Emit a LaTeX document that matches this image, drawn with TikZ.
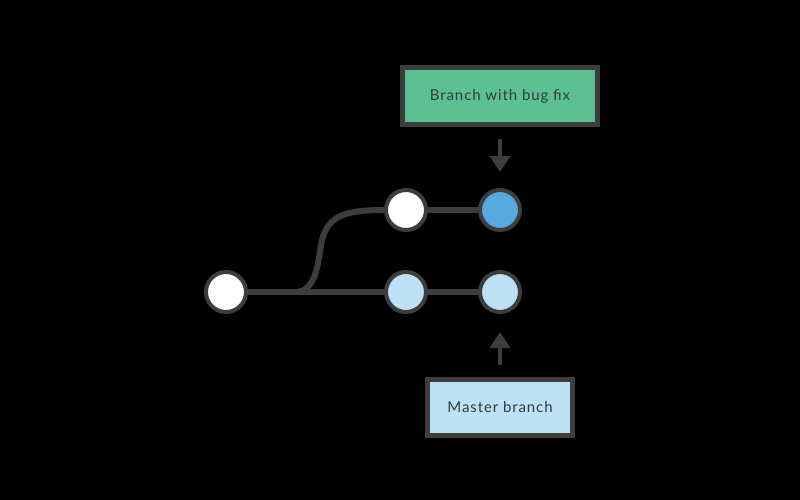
\documentclass[tikz,border=0pt]{standalone}
\usepackage{fontspec}
\setmainfont{Lato}[LetterSpace=6]
\usetikzlibrary{arrows.meta}
\definecolor{linegray}{HTML}{3D3D3D}
\definecolor{fixgreen}{HTML}{5DBF94}
\definecolor{fixblue}{HTML}{58A8E0}
\definecolor{lightblue}{HTML}{BEE1F6}
\definecolor{txtgray}{HTML}{2F3D3D}
\begin{document}
\begin{tikzpicture}[x=1pt,y=-1pt,
  commit/.style={circle,draw=linegray,line width=4pt,minimum size=40pt,inner sep=0pt},
  label/.style={draw=linegray,line width=5pt,text=txtgray,font=\fontsize{15}{17}\selectfont,inner sep=0pt,align=center},
  conn/.style={linegray,line width=6pt},
  pointer/.style={linegray,line width=4pt,-{Triangle[width=20pt,length=16pt]}}]
\fill[black] (0,0) rectangle (800,500);
\useasboundingbox (0,0) rectangle (800,500);
\node[commit,fill=white] (a) at (226,292) {};
\node[commit,fill=white] (b) at (406,210) {};
\node[commit,fill=fixblue] (c) at (500,210) {};
\node[commit,fill=lightblue] (d) at (406,292) {};
\node[commit,fill=lightblue] (e) at (500,292) {};
\coordinate (s) at (295,292);
\draw[conn] (a) -- (d);
\draw[conn] (d) -- (e);
\draw[conn] (b) -- (c);
\draw[conn] (s) .. controls (318,292) and (318,258) .. (322,240) .. controls (328,216) and (345,210) .. (b.west);
\node[label,fill=fixgreen,minimum width=195pt,minimum height=57pt] (top) at (500,96) {Branch with bug fix};
\node[label,fill=lightblue,minimum width=145pt,minimum height=56pt] (bot) at (500,407.5) {Master branch};
\draw[pointer] ([yshift=-12pt]top.south) -- ([yshift=16pt]c.north);
\draw[pointer] ([yshift=12pt]bot.north) -- ([yshift=-18pt]e.south);
\end{tikzpicture}
\end{document}
